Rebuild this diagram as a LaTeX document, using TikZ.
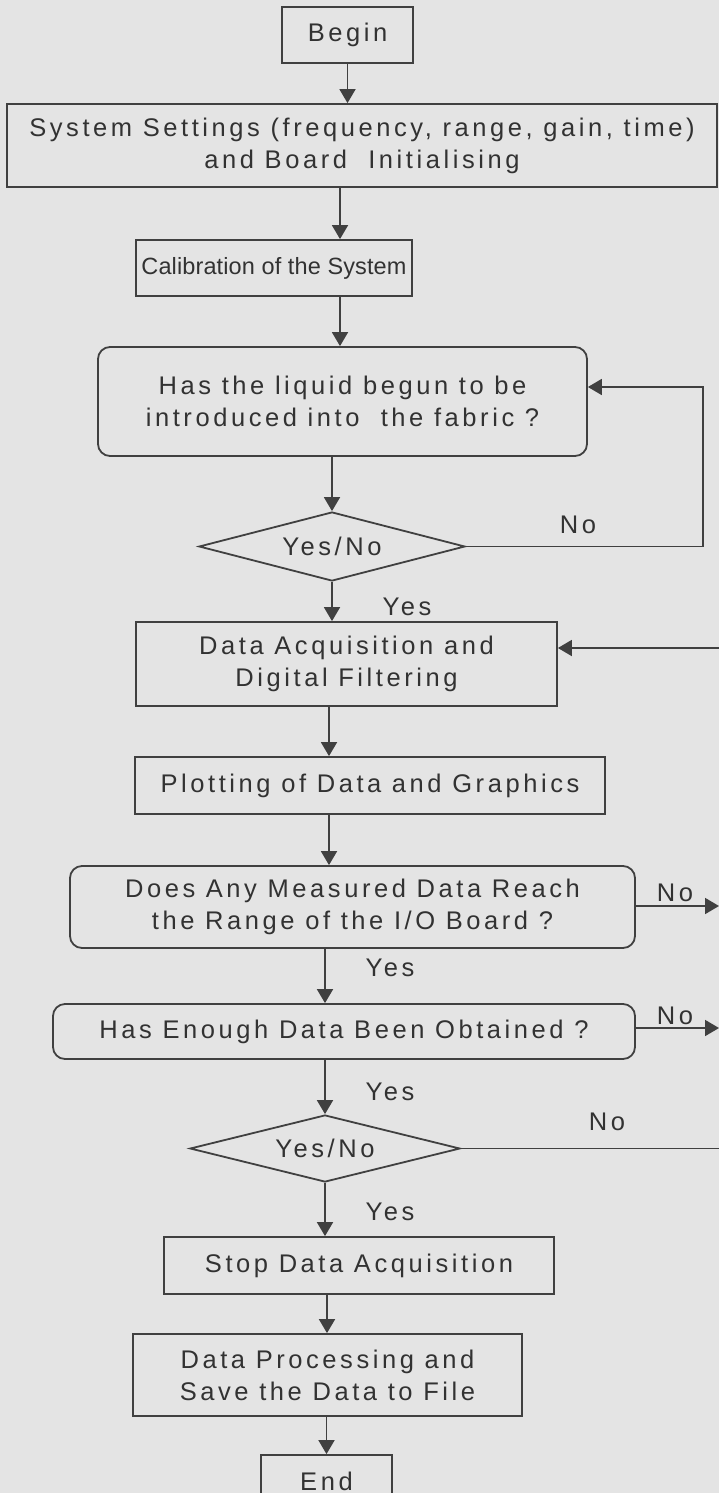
\documentclass[tikz,border=0pt]{standalone}
\usepackage{fontspec}
\setmainfont{Liberation Sans}[LetterSpace=14]
\newfontfamily\calfont{Liberation Sans}[LetterSpace=0.5]
\usetikzlibrary{shapes.geometric,arrows.meta}
\definecolor{bg}{RGB}{228,228,228}
\definecolor{ln}{RGB}{64,64,64}
\definecolor{tx}{RGB}{50,50,50}
\begin{document}
\begin{tikzpicture}[x=1pt,y=-1pt,
  every node/.style={font=\fontsize{25.5}{32}\selectfont, text=tx},
  box/.style={draw=ln, line width=1.8pt, inner sep=0pt, align=center},
  rbox/.style={box, rounded corners=12pt},
  dec/.style={draw=ln, line width=1.8pt, diamond, aspect=3.8, inner sep=0pt},
  conn/.style={draw=ln, line width=1.8pt, -{Triangle[width=16pt,length=14pt]}},
  plain/.style={draw=ln, line width=1.8pt},
  lbl/.style={inner sep=0pt}]
\useasboundingbox (0,0) rectangle (719,1493);
\fill[bg] (0,0) rectangle (719,1493);

\node[box, minimum width=131, minimum height=56] (begin) at (347.5,35) {Begin};
\node[box, minimum width=710, minimum height=83] (sys) at (362,145.5)
  {System Settings (frequency, range, gain, time)\\and Board\ \ Initialising};
\node[box, minimum width=276, minimum height=56, font=\calfont\fontsize{23.5}{28}\selectfont] (calib) at (274,268) {Calibration of the System};
\node[rbox, minimum width=489, minimum height=109] (liquid) at (342.5,401.5)
  {Has the liquid begun to be\\introduced into\ \ the fabric ?};
\node[dec, minimum width=266, minimum height=69] (d1) at (332,546.5) {Yes/No};
\node[box, minimum width=421, minimum height=84] (da) at (346.5,664)
  {Data Acquisition and\\Digital Filtering};
\node[box, minimum width=470, minimum height=57] (plot) at (370,785.5) {Plotting of Data and Graphics};
\node[rbox, minimum width=565, minimum height=82] (does) at (352.5,907)
  {Does Any Measured Data Reach\\the Range of the I/O Board ?};
\node[rbox, minimum width=582, minimum height=55] (enough) at (344,1031.5) {Has Enough Data Been Obtained ?};
\node[dec, minimum width=270, minimum height=67] (d2) at (325,1148.5) {Yes/No};
\node[box, minimum width=390, minimum height=57] (stop) at (359,1265.5) {Stop Data Acquisition};
\node[box, minimum width=389, minimum height=82] (dp) at (327.5,1375)
  {Data Processing and\\Save the Data to File};
\node[box, minimum width=131, minimum height=52] (end) at (326.5,1481) {End};

% main flow
\draw[conn] (begin.south) -- (begin.south |- sys.north);
\draw[conn] (340,0 |- sys.south) -- (340,0 |- calib.north);
\draw[conn] (340,0 |- calib.south) -- (340,0 |- liquid.north);
\draw[conn] (332,0 |- liquid.south) -- (d1.north);
\draw[conn] (d1.south) -- (d1.south |- da.north);
\draw[conn] (329,0 |- da.south) -- (329,0 |- plot.north);
\draw[conn] (329,0 |- plot.south) -- (329,0 |- does.north);
\draw[conn] (325,0 |- does.south) -- (325,0 |- enough.north);
\draw[conn] (d2.north |- enough.south) -- (d2.north);
\draw[conn] (d2.south) -- (d2.south |- stop.north);
\draw[conn] (327,0 |- stop.south) -- (327,0 |- dp.north);
\draw[conn] (326.5,0 |- dp.south) -- (end.north);

% feedback loops
\coordinate (fb) at (703,387);
\draw[conn] (d1.east) -| (fb) -- (fb -| liquid.east);
\coordinate (r1) at (719,648);
\draw[conn] (r1) -- (r1 -| da.east);
\coordinate (r2) at (719,906);
\draw[conn] (r2 -| does.east) -- (r2);
\coordinate (r3) at (719,1028);
\draw[conn] (r3 -| enough.east) -- (r3);
\coordinate (r4) at (719,1148.5);
\draw[plain] (d2.east) -- (r4);

% labels
\node[lbl] (n1) at (578,525) {No};
\node[lbl] (y1) at (407,607) {Yes};
\node[lbl] (n2) at (675,893) {No};
\node[lbl] (y2) at (390,968) {Yes};
\node[lbl] (n3) at (675,1016) {No};
\node[lbl] (y3) at (390,1092) {Yes};
\node[lbl] (n4) at (607,1122) {No};
\node[lbl] (y4) at (390,1212) {Yes};
\end{tikzpicture}
\end{document}
